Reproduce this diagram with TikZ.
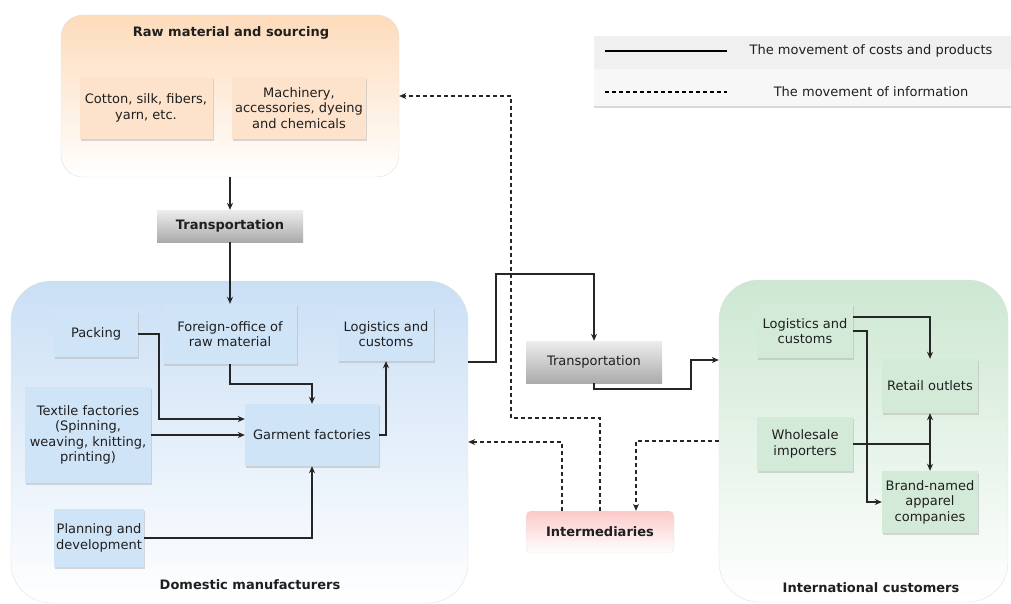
\documentclass[tikz,border=0pt]{standalone}
\usepackage{fontspec}
\setmainfont{DejaVu Sans}
\definecolor{rawtop}{HTML}{FDDBBB}
\definecolor{rawitem}{HTML}{FDE3CB}
\definecolor{domtop}{HTML}{CADFF5}
\definecolor{domitem}{HTML}{D0E4F8}
\definecolor{inttop}{HTML}{CDE7D2}
\definecolor{intitem}{HTML}{D3EAD8}
\definecolor{intertop}{HTML}{FCC9C9}
\usetikzlibrary{arrows.meta,shadows}
\newcommand{\sz}{\fontsize{13}{15.5}\selectfont}
\tikzset{
    group/.style={
           rectangle,
           rounded corners=#1,
           draw=black!12,
           bottom color=white,
           inner sep=0pt,
           },
    item/.style={
           rectangle,
           fill=#1,
           inner sep=2pt,
           align=center,
           text centered,
           drop shadow={shadow xshift=1pt, shadow yshift=-1.5pt, fill=black!30, opacity=.5},
           },
    transbox/.style={
           rectangle,
           top color=black!7,
           bottom color=black!33,
           inner sep=2pt,
           },
    title/.style={font=\sz\bfseries},
    flow/.style={-{Stealth[length=7pt,width=6pt]}, line width=1.5pt, black!85},
    info/.style={flow, dash pattern=on 4pt off 3pt},
}

\begin{document}
\begin{tikzpicture}[x=1pt, y=-1pt, font=\sz, text=black!88]
      \useasboundingbox (0,0) rectangle (1011,603);
      % groups
      \node[group=22pt, top color=rawtop, minimum width=338pt, minimum height=162pt] (raw) at (230, 96) {};
      \node[group=40pt, top color=domtop, minimum width=457pt, minimum height=322pt] (dom) at (239.5, 442) {};
      \node[group=40pt, top color=inttop, minimum width=289pt, minimum height=322pt] (intl) at (863.5, 441) {};
      \node[title] (rawtitle) at (231, 33) {Raw material and sourcing};
      \node[title] (domtitle) at (250, 585) {Domestic manufacturers};
      \node[title] (intltitle) at (871, 588) {International customers};
      % legend
      \node[fill=black!6, minimum width=417pt, minimum height=33pt, inner sep=0pt] (leg1) at (802.5, 52.5) {};
      \node[fill=black!3, minimum width=417pt, minimum height=38pt, inner sep=0pt] (leg2) at (802.5, 88) {};
      \draw[black!15, line width=1.5pt] (leg2.south west) -- (leg2.south east);
      \coordinate (l1a) at (605, 51);
      \coordinate (l1b) at (727, 51);
      \coordinate (l2a) at (605, 92);
      \coordinate (l2b) at (727, 92);
      \draw[line width=1.5pt] (l1a) -- (l1b);
      \draw[line width=1.5pt, dash pattern=on 4pt off 3pt] (l2a) -- (l2b);
      \node (legtext1) at (871, 51) {The movement of costs and products};
      \node (legtext2) at (871, 92) {The movement of information};
      % raw material
      \node[item=rawitem, minimum width=133pt, minimum height=62pt] (cotton) at (146, 108) {Cotton, silk, fibers,\\yarn, etc.};
      \node[item=rawitem, minimum width=134pt, minimum height=62pt] (mach) at (299, 108) {Machinery,\\accessories, dyeing\\and chemicals};
      \node[transbox, title, minimum width=146pt, minimum height=32pt] (trans1) at (230, 226) {Transportation};
      % domestic
      \node[item=domitem, minimum width=84pt, minimum height=46pt] (packing) at (96, 334) {Packing};
      \node[item=domitem, minimum width=134pt, minimum height=60pt] (foreign) at (230, 334) {Foreign-office of\\raw material};
      \node[item=domitem, minimum width=96pt, minimum height=54pt] (logdom) at (386, 334) {Logistics and\\customs};
      \node[item=domitem, minimum width=126pt, minimum height=96pt] (textile) at (88, 435) {Textile factories\\(Spinning,\\weaving, knitting,\\printing)};
      \node[item=domitem, minimum width=134pt, minimum height=62pt] (garment) at (312, 435) {Garment factories};
      \node[item=domitem, minimum width=90pt, minimum height=58pt] (planning) at (99, 538) {Planning and\\development};
      % middle
      \node[transbox, minimum width=136pt, minimum height=42pt] (trans2) at (594, 362) {Transportation};
      \node[rectangle, rounded corners=5pt, top color=intertop, bottom color=white, draw=black!10,
            title, minimum width=148pt, minimum height=42pt] (inter) at (600, 532) {Intermediaries};
      % international
      \node[item=intitem, minimum width=96pt, minimum height=54pt] (logint) at (805, 331) {Logistics and\\customs};
      \node[item=intitem, minimum width=96pt, minimum height=54pt] (retail) at (930, 386) {Retail outlets};
      \node[item=intitem, minimum width=96pt, minimum height=54pt] (whole) at (805, 444) {Wholesale\\importers};
      \node[item=intitem, minimum width=96pt, minimum height=62pt] (brand) at (930, 502) {Brand-named\\apparel\\companies};
      \coordinate (turn) at (496, 274);
      \coordinate (hop) at (691, 360);
      \coordinate (bend) at (511, 418);
      % products
      \draw[flow] (raw.south) -- (trans1.north);
      \draw[flow] (trans1.south) -- (foreign.north);
      \draw[flow] (packing.east) -- ++(21,0) |- ([yshift=16pt]garment.west);
      \draw[flow] (textile.east) -- (garment.west);
      \draw[flow] (foreign.south) -- ++(0,20) -| (garment.north);
      \draw[flow] (garment.east) -| (logdom.south);
      \draw[flow] (planning.east) -| (garment.south);
      \draw[flow] ([yshift=80pt]dom.east) -| (turn) -| (trans2.north);
      \draw[flow] (trans2.south) -- ++(0,6) -| (hop) -- ([yshift=81pt]intl.west);
      \draw[flow] ([yshift=14pt]logint.east) -| (retail.north);
      \draw[flow] (logint.east) -- ++(14,0) |- (brand.west);
      \draw[flow] (whole.east) -| (retail.south);
      \draw[flow] (whole.east) -| (brand.north);
      % information
      \draw[info] (inter.north) |- (bend) |- (raw.east);
      \draw[info] ([xshift=-38pt]inter.north) |- (dom.east);
      \draw[info] (intl.west) -| ([xshift=36pt]inter.north);
\end{tikzpicture}
\end{document}
